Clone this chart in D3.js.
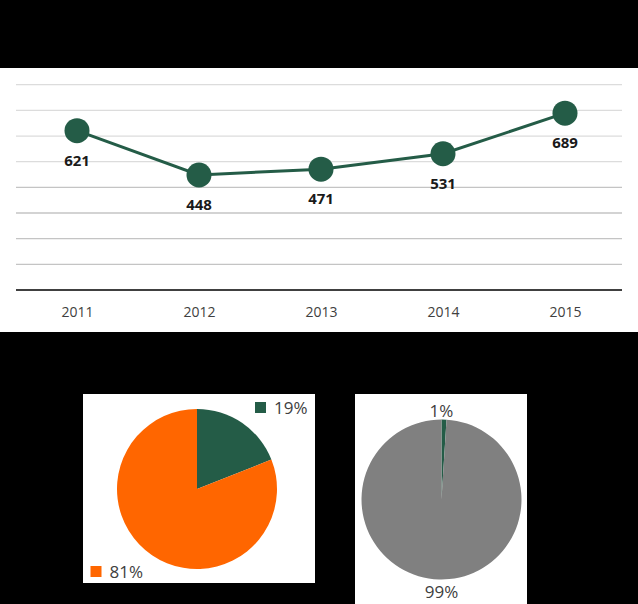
<!DOCTYPE html>
<html><head><meta charset="utf-8">
<script src="https://cdn.jsdelivr.net/npm/d3@7"></script>
<style>html,body{margin:0;padding:0;background:#000;}svg{display:block;}</style>
</head><body>
<svg id="c" width="638" height="604"></svg>
<script>
const years = ["2011","2012","2013","2014","2015"];
const values = [621,448,471,531,689];
const yTicks = [0,100,200,300,400,500,600,700,800];
const pie1Labels = ["19%","81%"];
const pie1Values = [19,81];
const pie2Labels = ["1%","99%"];
const pie2Values = [1,99];

const green = "#245C47", orange = "#FF6600", grey = "#808080";
const font = "'Open Sans', 'Noto Sans', sans-serif";
const svg = d3.select("#c");
svg.append("rect").attr("width",638).attr("height",604).attr("fill","#000");

// line panel
svg.append("rect").attr("x",0).attr("y",68).attr("width",638).attr("height",264).attr("fill","#fff");
const x = d3.scalePoint().domain(years).range([77,565]);
const y = d3.scaleLinear().domain([0,800]).range([290,84.7]);
const g = svg.append("g");
g.selectAll("line.grid").data(yTicks.slice(1)).join("line")
  .attr("x1",16).attr("x2",622).attr("y1",d=>y(d)).attr("y2",d=>y(d))
  .attr("stroke",d=> d>=500 ? "#dcdcdc" : "#c4c4c4").attr("stroke-width",1.3);
const xAxis = g.append("g").attr("transform","translate(0,290)")
  .call(d3.axisBottom(x).tickSize(0).tickPadding(17));
xAxis.select(".domain").remove();
xAxis.append("line").attr("x1",16).attr("x2",622).attr("stroke","#404040").attr("stroke-width",2);
xAxis.selectAll("text").attr("font-family",font).attr("font-size",14).attr("fill","#404040");

const line = d3.line().x((d,i)=>x(years[i])).y(d=>y(d));
g.append("path").datum(values).attr("d",line).attr("fill","none").attr("stroke",green).attr("stroke-width",3);
g.selectAll("circle").data(values).join("circle")
  .attr("cx",(d,i)=>x(years[i])).attr("cy",d=>y(d)).attr("r",12.5).attr("fill",green);
g.selectAll("text.lbl").data(values).join("text").attr("class","lbl")
  .attr("x",(d,i)=>x(years[i])).attr("y",d=>y(d)+35)
  .attr("text-anchor","middle").attr("font-family",font)
  .attr("font-weight","bold").attr("font-size",15).attr("fill","#1a1a1a").text(d=>d);

// pie panels
svg.append("rect").attr("x",83).attr("y",394).attr("width",232).attr("height",189).attr("fill","#fff");
svg.append("rect").attr("x",355).attr("y",394).attr("width",172).attr("height",210).attr("fill","#fff");
const pie = d3.pie().sort(null);
const arc = d3.arc().innerRadius(0).outerRadius(80);

const p1 = svg.append("g").attr("transform","translate(197,489)");
p1.selectAll("path").data(pie(pie1Values)).join("path").attr("d",arc)
  .attr("fill",(d,i)=>[green,orange][i]);
const leg = [{x:255,y:402,c:green,t:pie1Labels[0]},{x:90.5,y:566,c:orange,t:pie1Labels[1]}];
leg.forEach(l=>{
  svg.append("rect").attr("x",l.x).attr("y",l.y).attr("width",11).attr("height",11).attr("fill",l.c);
  svg.append("text").attr("x",l.x+19).attr("y",l.y+12).attr("font-family",font)
    .attr("font-size",17).attr("fill","#404040").text(l.t);
});

const p2 = svg.append("g").attr("transform","translate(441.5,499.5)");
p2.selectAll("path").data(pie(pie2Values)).join("path").attr("d",arc)
  .attr("fill",(d,i)=>[green,grey][i]);
p2.append("text").attr("x",0).attr("y",-83).attr("text-anchor","middle")
  .attr("font-family",font).attr("font-size",17).attr("fill","#404040").text(pie2Labels[0]);
p2.append("text").attr("x",0).attr("y",98).attr("text-anchor","middle")
  .attr("font-family",font).attr("font-size",17).attr("fill","#404040").text(pie2Labels[1]);
</script>
</body></html>
